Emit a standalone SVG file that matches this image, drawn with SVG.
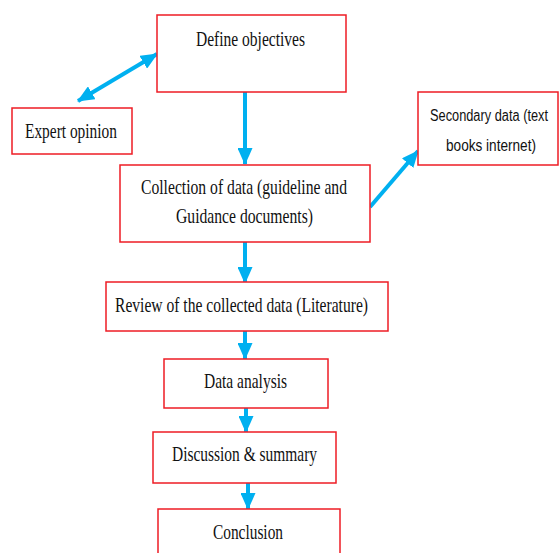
<svg xmlns="http://www.w3.org/2000/svg" width="560" height="553" viewBox="0 0 560 553">
<style>
.box{fill:#fff;stroke:#ee1c25;stroke-width:1.5}
.t{font-family:"Liberation Serif","Times New Roman",serif;font-size:21px;fill:#111;text-anchor:middle}
.s{font-family:"Liberation Sans",Arial,sans-serif;font-size:16px;fill:#111;text-anchor:middle}
.c{stroke:#00b0f0;stroke-width:4;fill:none}
</style>
<defs>
<marker id="ah" markerUnits="userSpaceOnUse" markerWidth="17" markerHeight="15" refX="16" refY="7.5" orient="auto-start-reverse">
<path d="M0,0 L17,7.5 L0,15 Z" fill="#00b0f0"/>
</marker>
</defs>
<rect width="560" height="553" fill="#fff"/>
<g id="connectors">
<line class="c" x1="78" y1="101" x2="157" y2="54" marker-start="url(#ah)" marker-end="url(#ah)"/>
<line class="c" x1="245" y1="92" x2="245" y2="164" marker-end="url(#ah)"/>
<line class="c" x1="370" y1="207" x2="418" y2="151" marker-end="url(#ah)"/>
<line class="c" x1="245" y1="242" x2="245" y2="283" marker-end="url(#ah)"/>
<line class="c" x1="245" y1="331" x2="245" y2="359" marker-end="url(#ah)"/>
<line class="c" x1="246" y1="408" x2="246" y2="432" marker-end="url(#ah)"/>
<line class="c" x1="248" y1="483" x2="248" y2="509" marker-end="url(#ah)"/>
</g>
<g id="define">
<rect class="box" x="157" y="15" width="189" height="77"/>
<text class="t" x="250.5" y="46" textLength="109" lengthAdjust="spacingAndGlyphs">Define objectives</text>
</g>
<g id="expert">
<rect class="box" x="12" y="108" width="120" height="46"/>
<text class="t" x="71" y="138" textLength="92" lengthAdjust="spacingAndGlyphs">Expert opinion</text>
</g>
<g id="collection">
<rect class="box" x="120" y="165" width="250" height="77"/>
<text class="t" x="244" y="194" textLength="206" lengthAdjust="spacingAndGlyphs">Collection of data (guideline and</text>
<text class="t" x="244.5" y="223" textLength="137" lengthAdjust="spacingAndGlyphs">Guidance documents)</text>
</g>
<g id="secondary">
<rect class="box" x="418" y="92" width="140" height="73"/>
<text class="s" x="489" y="121" textLength="118" lengthAdjust="spacingAndGlyphs">Secondary data (text</text>
<text class="s" x="491" y="151" textLength="90" lengthAdjust="spacingAndGlyphs">books internet)</text>
</g>
<g id="review">
<rect class="box" x="106" y="282" width="282" height="49"/>
<text class="t" x="241.5" y="312" textLength="253" lengthAdjust="spacingAndGlyphs">Review of the collected data (Literature)</text>
</g>
<g id="analysis">
<rect class="box" x="164" y="359" width="164" height="49"/>
<text class="t" x="245.5" y="388" textLength="83" lengthAdjust="spacingAndGlyphs">Data analysis</text>
</g>
<g id="discussion">
<rect class="box" x="153" y="432" width="183" height="51"/>
<text class="t" x="244.5" y="461" textLength="145" lengthAdjust="spacingAndGlyphs">Discussion &amp; summary</text>
</g>
<g id="conclusion">
<rect class="box" x="158" y="509" width="182" height="60"/>
<text class="t" x="248" y="539" textLength="70" lengthAdjust="spacingAndGlyphs">Conclusion</text>
</g>
</svg>
